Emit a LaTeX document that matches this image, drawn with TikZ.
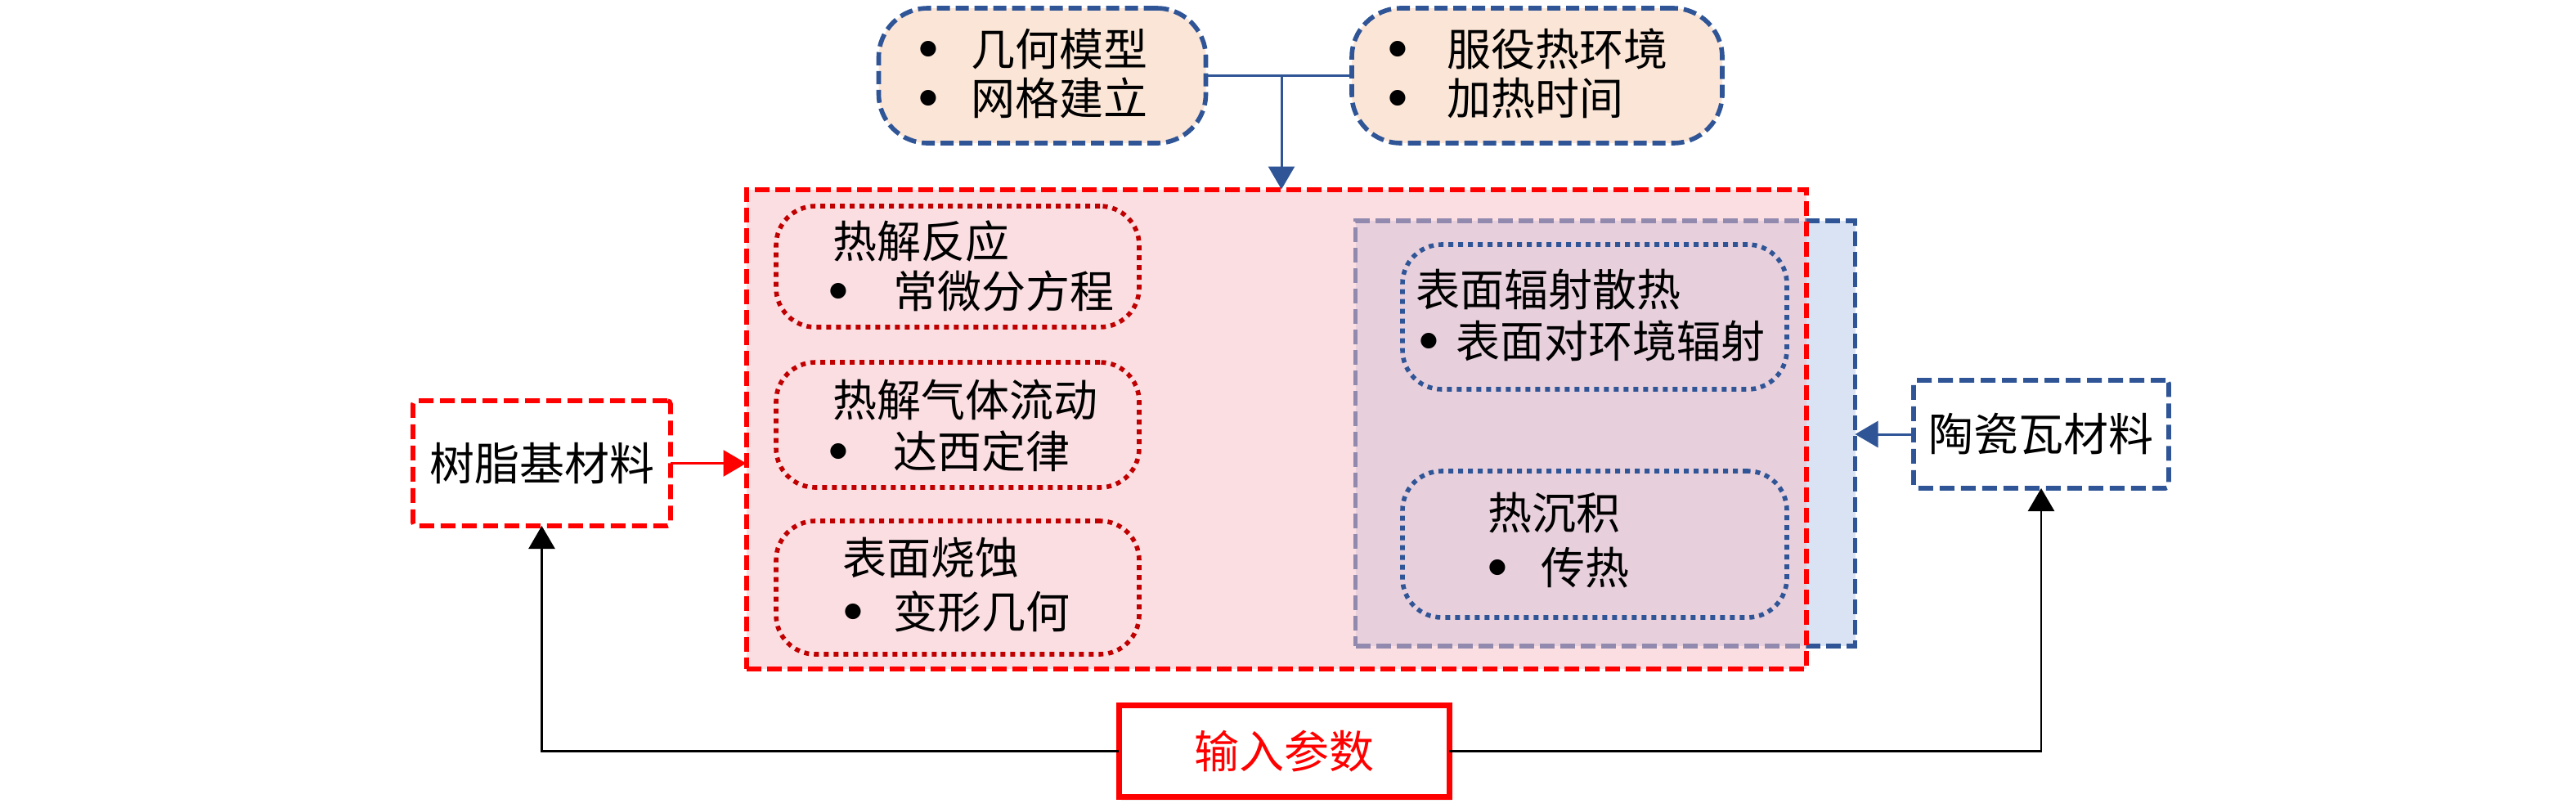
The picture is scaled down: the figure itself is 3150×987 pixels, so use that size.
\documentclass[tikz,border=0pt]{standalone}
\usepackage{fontspec}
\setmainfont{Noto Sans CJK SC}
\newfontfamily\bulfont{DejaVu Sans}
\usetikzlibrary{arrows.meta,shadows}
\definecolor{cblue}{RGB}{47,85,151}
\definecolor{cpeach}{RGB}{251,229,214}
\definecolor{clblue}{RGB}{218,227,243}
\definecolor{cpink}{RGB}{245,190,198}
\definecolor{cdred}{RGB}{192,0,0}
\definecolor{cred}{RGB}{255,0,0}
\begin{document}
\begin{tikzpicture}[x=0.5pt,y=-0.5pt,
  txt/.style={inner sep=0pt, outer sep=0pt, anchor=west, font=\fontsize{27pt}{30pt}\selectfont},
  bul/.style={inner sep=0pt, outer sep=0pt, anchor=center, font=\bulfont\fontsize{12.5pt}{14pt}\selectfont},
  shape0/.style={rectangle, inner sep=0pt, outer sep=0pt},
  toppill/.style={shape0, draw=cblue, fill=cpeach, line width=2.8pt, dash pattern=on 8pt off 3.5pt, rounded corners=30pt},
  redpill/.style={shape0, draw=cdred, line width=2.8pt, dash pattern=on 3pt off 3pt, rounded corners=24pt},
  bluepill/.style={shape0, draw=cblue, line width=2.8pt, dash pattern=on 3pt off 3pt, rounded corners=24pt},
  sidebox/.style={shape0, line width=2.8pt, dash pattern=on 9pt off 4pt, rounded corners=2pt, font=\fontsize{27.5pt}{30pt}\selectfont},
  arr/.style={-{Triangle[length=14pt,width=16pt]}, line width=1.5pt}
]
\useasboundingbox (0,0) rectangle (3150,987);

% big containers
\node[shape0, draw=cblue, fill=clblue, line width=2.8pt, dash pattern=on 9pt off 3.5pt,
  minimum width=305.5pt, minimum height=260pt] (bb) at (1963,530) {};
\node[shape0, draw=cred, fill=cpink, fill opacity=0.5, draw opacity=1, line width=3pt, dash pattern=on 9pt off 3.5pt,
  minimum width=648pt, minimum height=293pt] (rb) at (1560.5,524.5) {};

% top pills
\node[toppill, minimum width=200pt, minimum height=82.5pt] (tp1) at (1274.5,92.5) {};
\node[toppill, minimum width=226.5pt, minimum height=82.5pt] (tp2) at (1879.5,92.5) {};
\node[bul] (tp1b1) at (1135,60) {●};
\node[txt] (tp1t1) at (1187,60) {几何模型};
\node[bul] (tp1b2) at (1135,120) {●};
\node[txt] (tp1t2) at (1187,120) {网格建立};
\node[bul] (tp2b1) at (1709,60) {●};
\node[txt] (tp2t1) at (1769,60) {服役热环境};
\node[bul] (tp2b2) at (1709,120) {●};
\node[txt] (tp2t2) at (1769,120) {加热时间};

% left pills
\node[redpill, minimum width=222pt, minimum height=74pt] (p1) at (1171,326) {};
\node[redpill, minimum width=222pt, minimum height=76.5pt] (p2) at (1171,519.5) {};
\node[redpill, minimum width=222pt, minimum height=81.5pt] (p3) at (1171,718.5) {};
\node[txt] (p1t) at (1018,295) {热解反应};
\node[bul] (p1b) at (1025,356) {●};
\node[txt] (p1i) at (1092,356) {常微分方程};
\node[txt] (p2t) at (1018,489) {热解气体流动};
\node[bul] (p2b) at (1025,552) {●};
\node[txt] (p2i) at (1092,552) {达西定律};
\node[txt] (p3t) at (1030,682) {表面烧蚀};
\node[bul] (p3b) at (1043,748) {●};
\node[txt] (p3i) at (1092,748) {变形几何};

% right pills
\node[bluepill, minimum width=235pt, minimum height=88.5pt] (q1) at (1950,387.5) {};
\node[bluepill, minimum width=235pt, minimum height=89.5pt] (q2) at (1950,665.5) {};
\node[txt] (q1t) at (1731,354) {表面辐射散热};
\node[bul] (q1b) at (1747,417) {●};
\node[txt] (q1i) at (1780,417) {表面对环境辐射};
\node[txt] (q2t) at (1819,627) {热沉积};
\node[bul] (q2b) at (1831,694) {●};
\node[txt] (q2i) at (1884,694) {传热};

% side boxes
\node[sidebox, draw=cred, fill=white, minimum width=157.5pt, minimum height=76.5pt] (rs) at (662.5,566.5) {树脂基材料};
\node[sidebox, draw=cblue, fill=white, minimum width=156pt, minimum height=66pt] (cs) at (2496,531) {陶瓷瓦材料};
\node[shape0, draw=cred, line width=3.5pt, fill=white, text=cred, font=\fontsize{27.5pt}{30pt}\selectfont,
  minimum width=202pt, minimum height=56pt,
  drop shadow={opacity=0.12, shadow xshift=1.5pt, shadow yshift=-2pt}] (ip) at (1570,918.5) {输入参数};

% connectors
\coordinate (j) at (1567,92);
\draw[cblue, line width=1.6pt] (tp1.east) -- (tp2.west);
\draw[arr, cblue] (j) -- (j |- rb.north);
\draw[arr, cred] (rs.east) -- (rs.east -| rb.west);
\draw[arr, cblue] (cs.west) -- (cs.west -| bb.east);
\draw[arr, black, line width=1.3pt] (ip.west) -| (rs.south);
\draw[arr, black, line width=1.3pt] (ip.east) -| (cs.south);
\end{tikzpicture}
\end{document}
